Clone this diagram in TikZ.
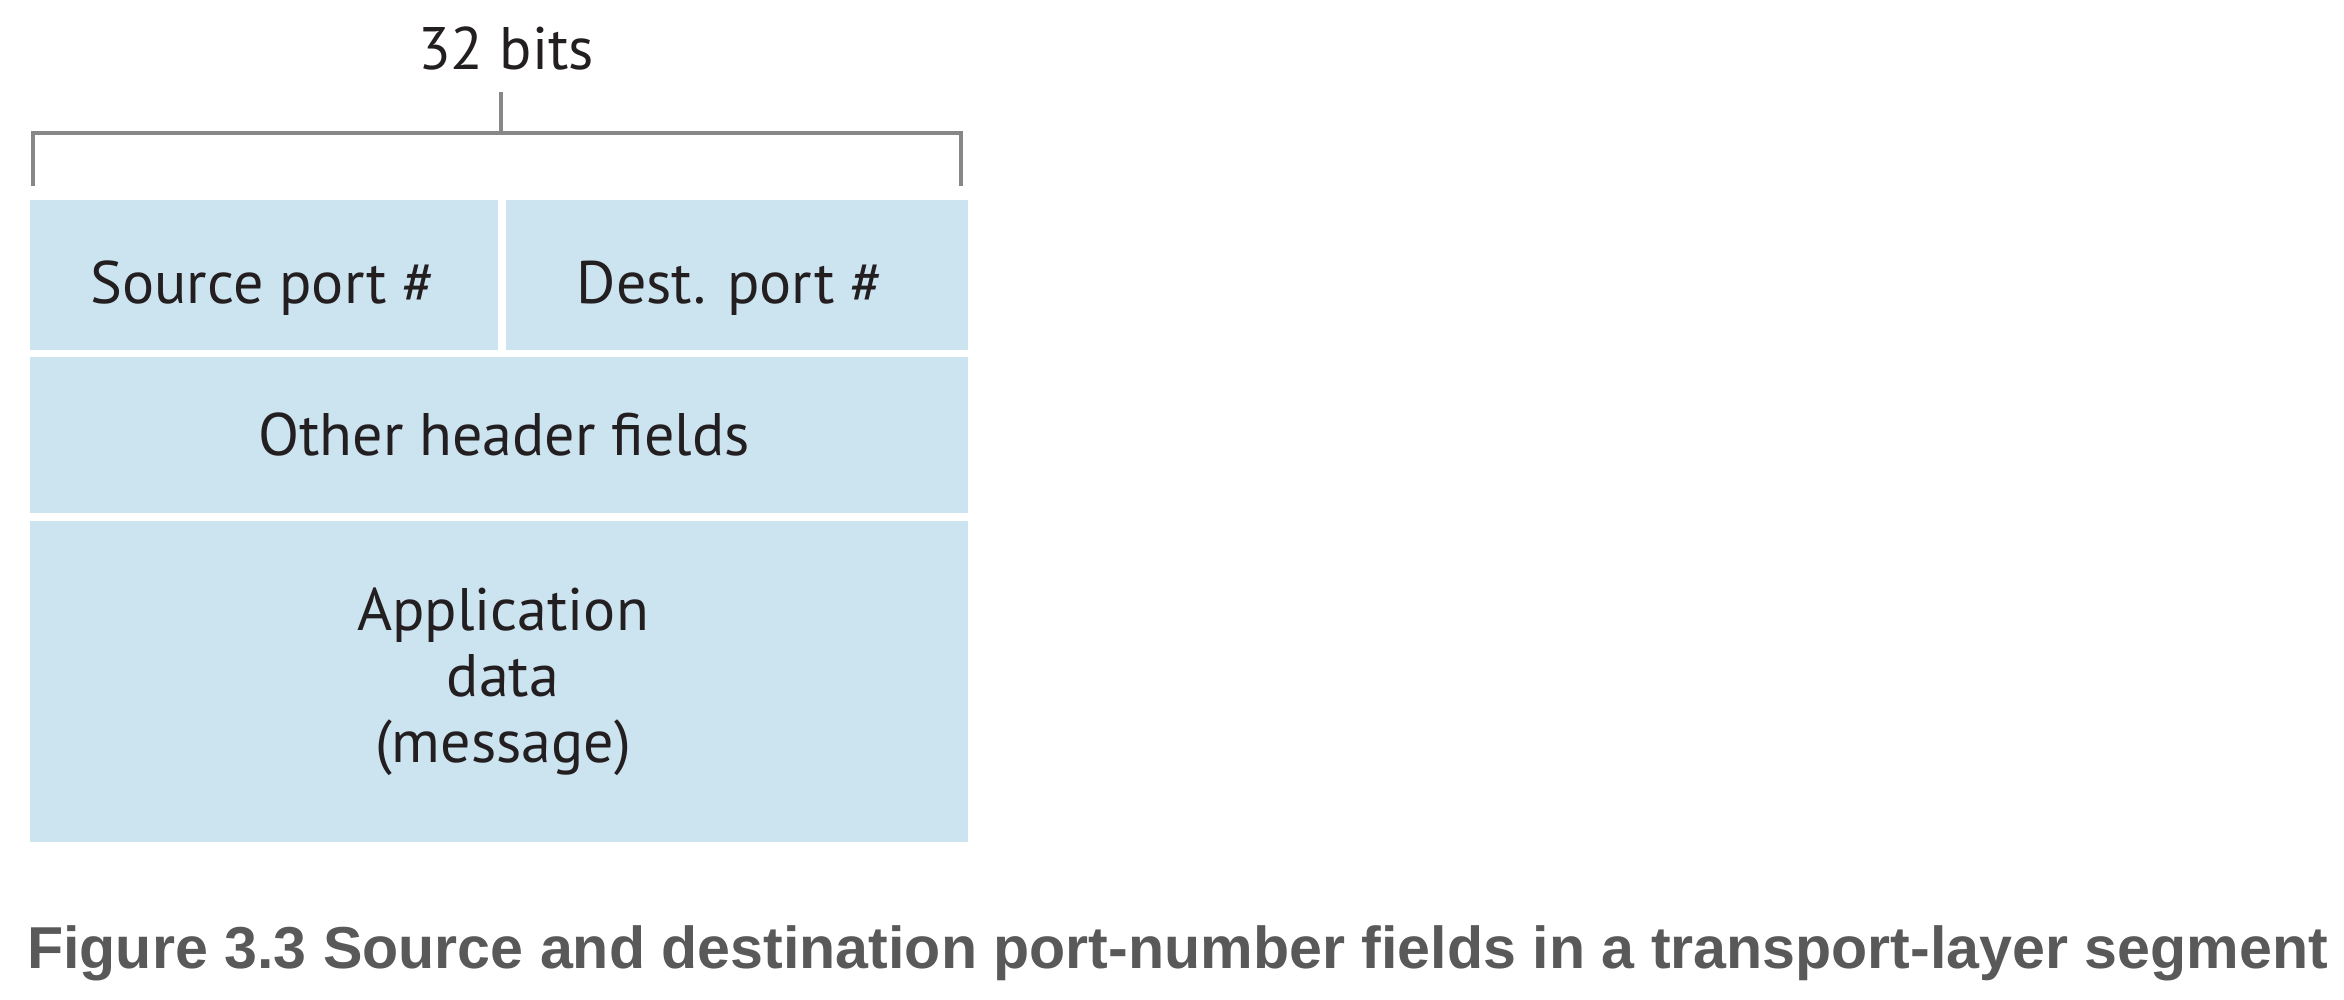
\documentclass[tikz,border=0pt]{standalone}
\usepackage{fontspec}
\setmainfont{PT Sans}
\newfontfamily\capfont{Liberation Sans}
\usepackage{graphicx}
\definecolor{fieldblue}{RGB}{204,227,240}
\definecolor{brackgray}{RGB}{135,135,135}
\definecolor{textdark}{RGB}{35,31,32}
\definecolor{capgray}{RGB}{89,89,89}
\begin{document}
\begin{tikzpicture}[x=1pt,y=-1pt,
  field/.style={fill=fieldblue, draw=none, inner sep=0pt},
  lbl/.style={anchor=base, inner sep=0pt, text=textdark, font=\fontsize{60}{66}\selectfont},
  brack/.style={draw=brackgray, line width=4pt}]
\useasboundingbox (0,0) rectangle (2344,1000);
% boxes
\node[field, minimum width=468pt, minimum height=150pt] (src) at (264,275) {};
\node[field, minimum width=462pt, minimum height=150pt] (dst) at (737,275) {};
\node[field, minimum width=938pt, minimum height=156pt] (oth) at (499,435) {};
\node[field, minimum width=938pt, minimum height=321pt] (app) at (499,681.5) {};
% labels
\node[lbl] (srct) at (263,303) {Source port \#};
\node[lbl] (dstt) at (730,303) {Dest. port \#};
\node[lbl] (otht) at (504,455) {Other header fields};
\node[lbl] (app1) at (503,630) {Application};
\node[lbl] (app2) at (503,696) {data};
\node[lbl] (app3) at (503,762) {(message)};
% bracket
\coordinate (bl) at (33,186);
\coordinate (br) at (961,186);
\coordinate (bc) at (501,133.5);
\coordinate (bt) at (501,92);
\draw[brack] (bl) -- (33,133.5) -- (961,133.5) -- (br);
\draw[brack] (bt) -- (bc);
\node[lbl] (bits) at (506,70) {32 bits};
% caption
\node[anchor=base west, inner sep=0pt, text=capgray] (cap) at (27,968)
  {\resizebox{2301pt}{!}{\capfont\bfseries\fontsize{60}{70}\selectfont Figure 3.3 Source and destination port-number fields in a transport-layer segment}};
\end{tikzpicture}
\end{document}
